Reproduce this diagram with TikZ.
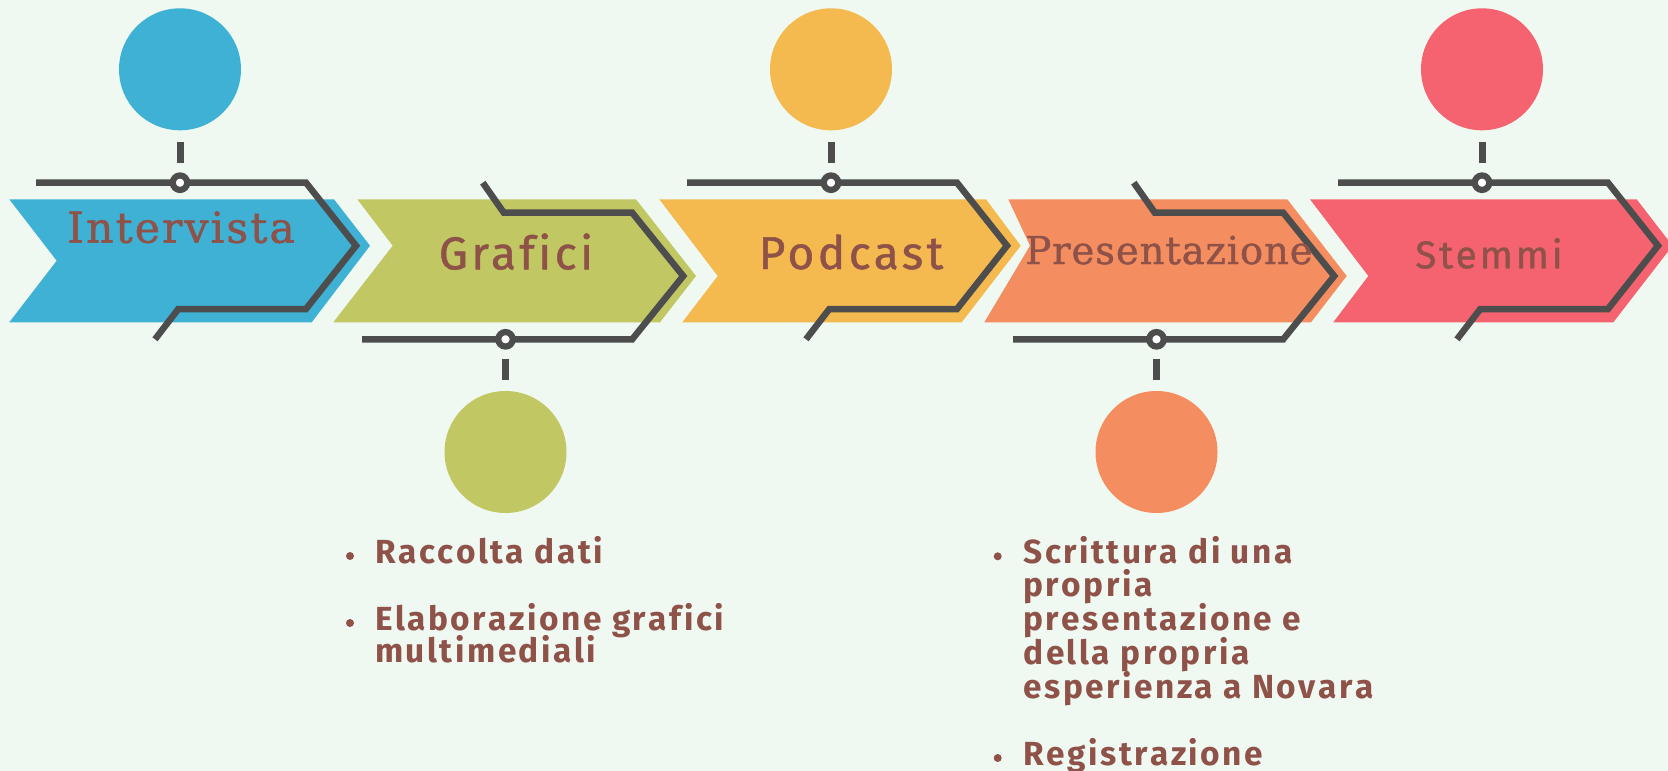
\documentclass[tikz,border=0pt]{standalone}
\usepackage{fontspec}
\setmainfont{Fira Sans}
\newfontfamily\serifx[LetterSpace=5,FakeBold=1.2]{DejaVu Serif}
\newfontfamily\serifp[LetterSpace=2.5,FakeBold=1.2]{DejaVu Serif}
\newfontfamily\labfont[LetterSpace=7.5,FakeBold=1,Ligatures=NoCommon]{Fira Sans}
\newfontfamily\bulfont[LetterSpace=7.5,Ligatures=NoCommon,Kerning=Off]{Fira Sans}
\definecolor{bgc}{RGB}{239,249,242}
\definecolor{cblue}{RGB}{62,177,212}
\definecolor{colive}{RGB}{192,199,99}
\definecolor{cyellow}{RGB}{244,186,79}
\definecolor{corange}{RGB}{244,141,95}
\definecolor{cred}{RGB}{244,99,111}
\definecolor{cgray}{RGB}{77,77,77}
\definecolor{ctext}{RGB}{142,82,73}
\tikzset{
  cline/.style={draw=cgray,line width=6.5pt},
  ringnode/.style={circle,draw=cgray,line width=6.2pt,fill=white,inner sep=0pt,minimum size=14.5pt},
  ticknode/.style={draw=cgray,line width=7pt},
  bigcirc/.style={circle,inner sep=0pt,minimum size=122pt},
  chevlabel/.style={text=ctext,inner sep=0pt,anchor=base},
  bultext/.style={text=ctext,inner sep=0pt,anchor=base west,font=\bulfont\bfseries\fontsize{33.4}{40}\selectfont},
  buldot/.style={circle,fill=ctext,inner sep=0pt,minimum size=8pt}
}
\begin{document}
\begin{tikzpicture}[x=1pt,y=-1pt]
\clip (0,0) rectangle (1668,771);
\fill[bgc] (0,0) rectangle (1668,771);
% chevrons
\fill[cblue] (9.3,199.3) -- (334,199.3) -- (370,245.7) -- (311.7,322.3) -- (9.3,322.3) -- (56.7,260.7) -- cycle;
\fill[colive] (357.3,199.3) -- (636,199.3) -- (696,276) -- (660,322.3) -- (333.3,322.3) -- (392.7,245.7) -- cycle;
\fill[cyellow] (659.3,199.3) -- (986,199.3) -- (1020.7,245.7) -- (961.7,322.3) -- (682.3,322.3) -- (717.7,276) -- cycle;
\fill[corange] (1008.3,199.3) -- (1287.3,199.3) -- (1346.7,276) -- (1311,322.3) -- (984.3,322.3) -- (1030,245.7) -- cycle;
\fill[cred] (1310,199.3) -- (1636.7,199.3) -- (1672.5,245.7) -- (1613.3,322.3) -- (1333.3,322.3) -- (1368.3,276) -- cycle;
% upper connectors (type A)
\foreach \c/\n/\col in {180/a/cblue,831/c/cyellow,1482/e/cred}{
  \node[bigcirc,fill=\col] (big\n) at (\c,69.3) {};
  \coordinate (tt\n) at (\c,142.3);
  \coordinate (tb\n) at (\c,163.3);
  \draw[ticknode] (tt\n) -- (tb\n);
  \draw[cline] (\c-144,182.7) -- (\c+126,182.7) -- (\c+176,245.7) -- (\c+126,309) -- (\c-1.7,309) -- (\c-25,339.3);
  \node[ringnode] (ring\n) at (\c,182.7) {};
}
% lower connectors (type B)
\foreach \c/\n/\col in {505.5/b/colive,1156.5/d/corange}{
  \node[bigcirc,fill=\col] (big\n) at (\c,452) {};
  \coordinate (tt\n) at (\c,358.7);
  \coordinate (tb\n) at (\c,379.7);
  \draw[ticknode] (tt\n) -- (tb\n);
  \draw[cline] (\c-22.7,182.7) -- (\c-1.7,212.7) -- (\c+126.7,212.7) -- (\c+177.7,276) -- (\c+126.7,339.3) -- (\c-143.3,339.3);
  \node[ringnode] (ring\n) at (\c,339.3) {};
}
% chevron labels
\node[chevlabel,font=\serifx\fontsize{42.5}{50}\selectfont] (l1) at (181,242.7) {Intervista};
\node[chevlabel,font=\labfont\fontsize{46}{55}\selectfont] (l2) at (516,269.3) {Grafici};
\node[chevlabel,font=\labfont\fontsize{46}{55}\selectfont] (l3) at (851,269) {Podcast};
\node[chevlabel,font=\serifp\fontsize{38.4}{46}\selectfont] (l4) at (1169,264) {Presentazione};
\node[chevlabel,font=\labfont\fontsize{38.7}{46}\selectfont] (l5) at (1489,268.3) {Stemmi};
% left bullet list
\node[buldot] (d1) at (350,556) {};
\node[bultext] (t1) at (375,563.3) {Raccolta dati};
\node[buldot] (d2) at (350,623) {};
\node[bultext] (t2) at (375,630) {Elaborazione grafici};
\node[bultext] (t3) at (375,662.7) {multimediali};
% right bullet list
\node[buldot] (d3) at (997.7,556.3) {};
\node[bultext] (t4) at (1023.3,563.3) {Scrittura di una};
\node[bultext] (t5) at (1023.3,596.5) {propria};
\node[bultext] (t6) at (1023.3,630.5) {presentazione e};
\node[bultext] (t7) at (1023.3,664.5) {della propria};
\node[bultext] (t8) at (1023.3,698.3) {esperienza a Novara};
\node[buldot] (d4) at (997.7,758) {};
\node[bultext] (t9) at (1023.3,765) {Registrazione};
\end{tikzpicture}
\end{document}
